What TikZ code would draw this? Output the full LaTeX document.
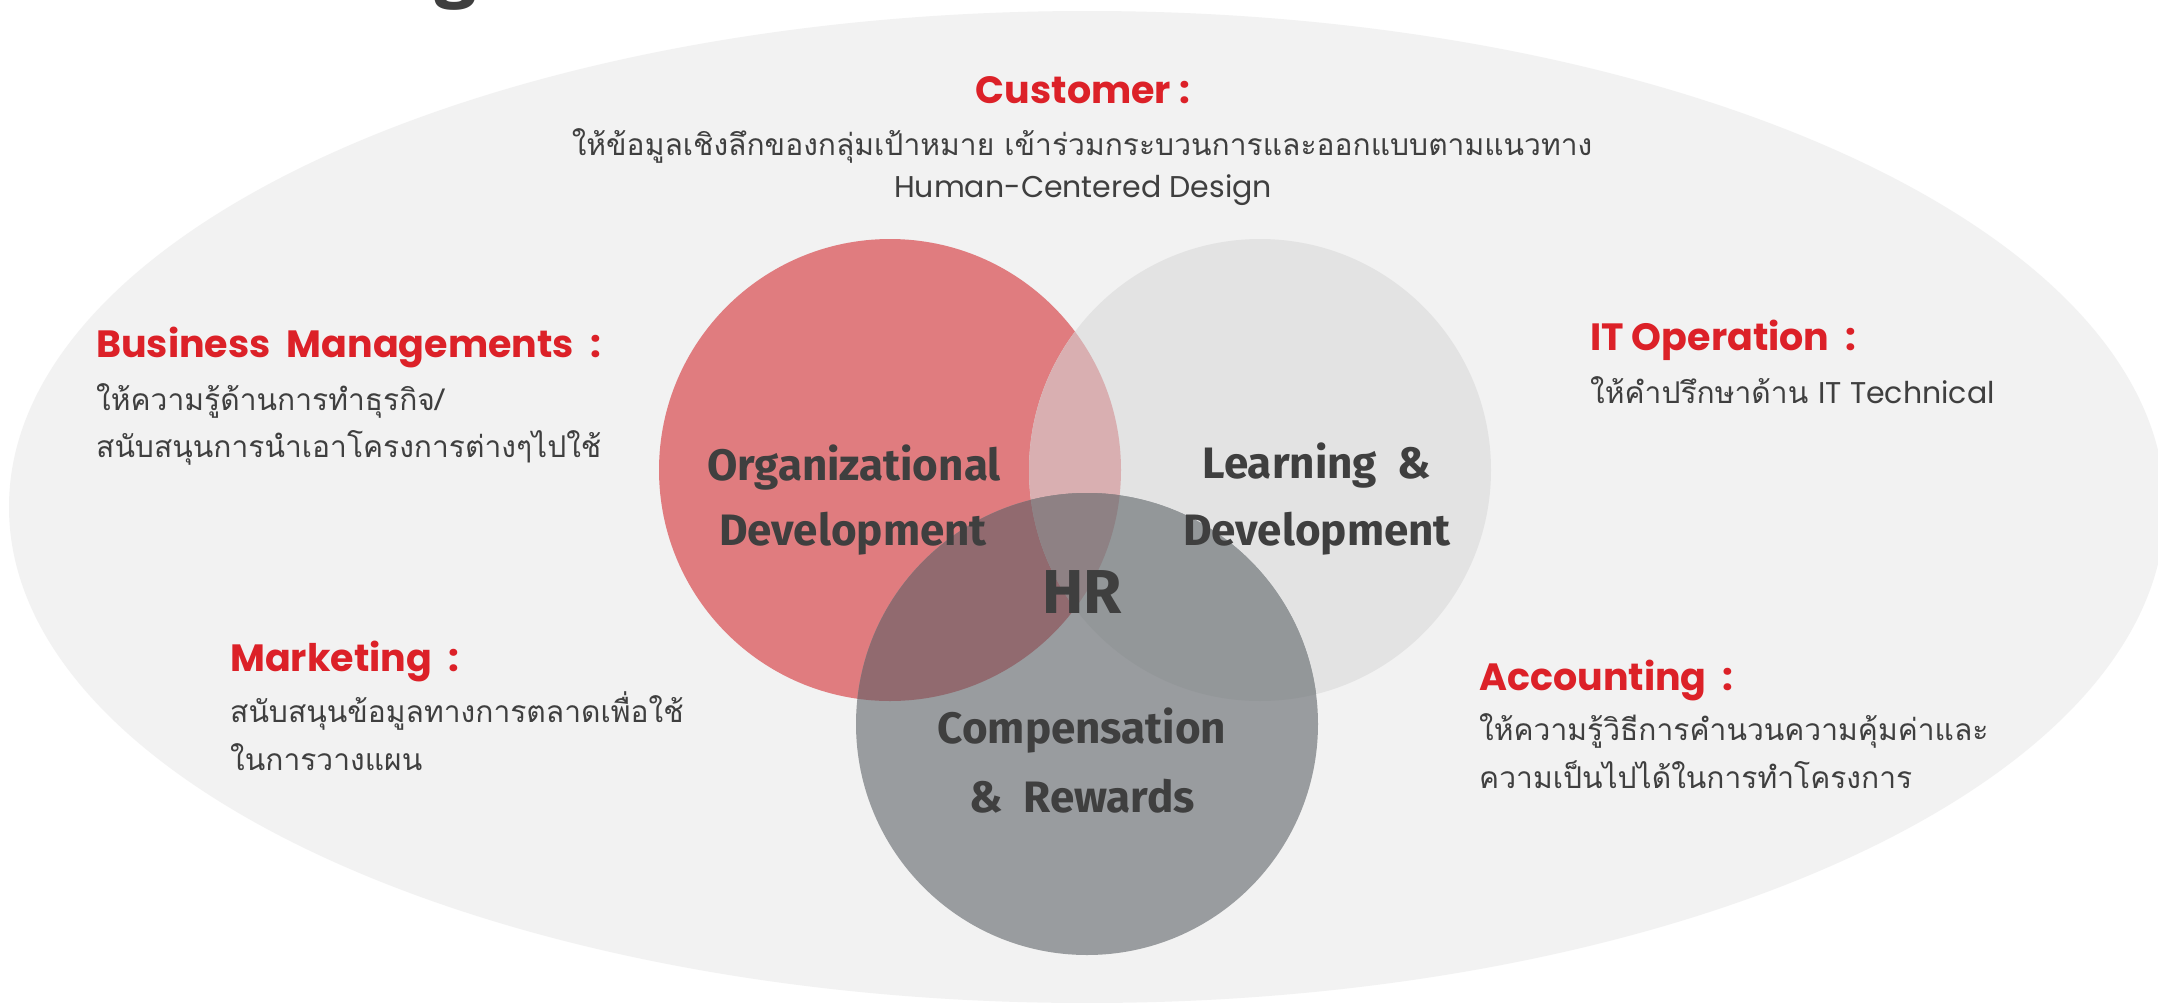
\documentclass[tikz,border=0pt]{standalone}
\usepackage{fontspec}
\setmainfont{Fira Sans}
\newfontfamily\thaifont[Script=Thai]{Loma}
\newfontfamily\headfont{Poppins}
\usetikzlibrary{calc}

\definecolor{hrred}{HTML}{DC2128}
\definecolor{hrtext}{HTML}{3F3F3F}
\definecolor{hrback}{HTML}{F2F2F2}
\definecolor{odred}{HTML}{E07C7F}
\definecolor{ldgray}{HTML}{E3E3E3}
\definecolor{crgray}{HTML}{999C9F}
\definecolor{odld}{HTML}{D9AFB1}
\definecolor{odcr}{HTML}{916A6F}
\definecolor{ldcr}{HTML}{939799}
\definecolor{allthree}{HTML}{8E8184}

\newcommand{\latin}[1]{{\headfont\fontsize{30}{34}\selectfont #1}}

\tikzset{
	head/.style={anchor=base west, inner sep=0pt, text=hrred, font=\headfont\fontsize{38}{42}\selectfont\bfseries},
	body/.style={anchor=base west, inner sep=0pt, text=hrtext, font=\thaifont\fontsize{30}{34}\selectfont},
	circlabel/.style={anchor=base, inner sep=0pt, text=hrtext, font=\fontsize{44}{48}\selectfont\bfseries},
}

\begin{document}
\begin{tikzpicture}[x=1pt, y=-1pt]
			%%%%% START %%%%%
			
			\useasboundingbox (0, 0) rectangle (2158, 1002);
			\clip (0, 0) rectangle (2158, 1002);
			\fill[white] (0, 0) rectangle (2158, 1002);
			
			% cut-off title above the picture
			\node[anchor=base, inner sep=0pt, text=hrtext, font=\fontsize{76}{80}\selectfont\bfseries] (title) at (455, -7) {g};
			
			\fill[hrback] (1087, 507) ellipse [x radius=1078pt, y radius=496pt];
			
			\coordinate (odc) at (890, 470);
			\coordinate (ldc) at (1260, 470);
			\coordinate (crc) at (1087, 724);
			
			% the three circles
			\fill[odred] (odc) circle [radius=231pt];
			\fill[ldgray] (ldc) circle [radius=231pt];
			\fill[crgray] (crc) circle [radius=231pt];
			
			% overlaps
			\begin{scope}
				\clip (odc) circle [radius=231pt];
				\fill[odld] (ldc) circle [radius=231pt];
				\fill[odcr] (crc) circle [radius=231pt];
			\end{scope}
			\begin{scope}
				\clip (ldc) circle [radius=231pt];
				\fill[ldcr] (crc) circle [radius=231pt];
				\clip (odc) circle [radius=231pt];
				\fill[allthree] (crc) circle [radius=231pt];
			\end{scope}
			
			\node[circlabel] (od1) at (854, 480) {Organizational};
			\node[circlabel] (od2) at (853, 545) {Development};
			\node[circlabel] (ld1) at (1317, 478) {Learning~ \&};
			\node[circlabel] (ld2) at (1317, 545) {Development};
			\node[circlabel] (cr1) at (1082, 743) {Compensation};
			\node[circlabel] (cr2) at (1082, 812) {\&~ Rewards};
			\node[circlabel, font=\fontsize{62}{66}\selectfont\bfseries] (hr) at (1082, 613) {HR};
			
			% customer
			\node[head, anchor=base] (cust) at (1083, 103) {Customer :};
			\node[body, anchor=base] (cust1) at (1082, 155) {ให้ข้อมูลเชิงลึกของกลุ่มเป้าหมาย เข้าร่วมกระบวนการและออกแบบตามแนวทาง};
			\node[body, anchor=base] (cust2) at (1083, 197) {\latin{Human-Centered Design}};
			
			% business managements
			\node[head] (bus) at (96, 357) {Business~ Managements~ :};
			\node[body] (bus1) at (96, 410) {ให้ความรู้ด้านการทำธุรกิจ/};
			\node[body] (bus2) at (96, 457) {สนับสนุนการนำเอาโครงการต่างๆไปใช้};
			
			% marketing
			\node[head] (mkt) at (230, 671) {Marketing~ :};
			\node[body] (mkt1) at (230, 722) {สนับสนุนข้อมูลทางการตลาดเพื่อใช้};
			\node[body] (mkt2) at (230, 770) {ในการวางแผน};
			
			% it operation
			\node[head] (itop) at (1590, 350) {IT Operation~ :};
			\node[body] (itop1) at (1590, 403) {ให้คำปรึกษาด้าน \latin{IT Technical}};
			
			% accounting
			\node[head] (acc) at (1479, 690) {Accounting~ :};
			\node[body] (acc1) at (1479, 740) {ให้ความรู้วิธีการคำนวนความคุ้มค่าและ};
			\node[body] (acc2) at (1479, 788) {ความเป็นไปได้ในการทำโครงการ};
			
			%%%%% END %%%%%
\end{tikzpicture}
\end{document}
